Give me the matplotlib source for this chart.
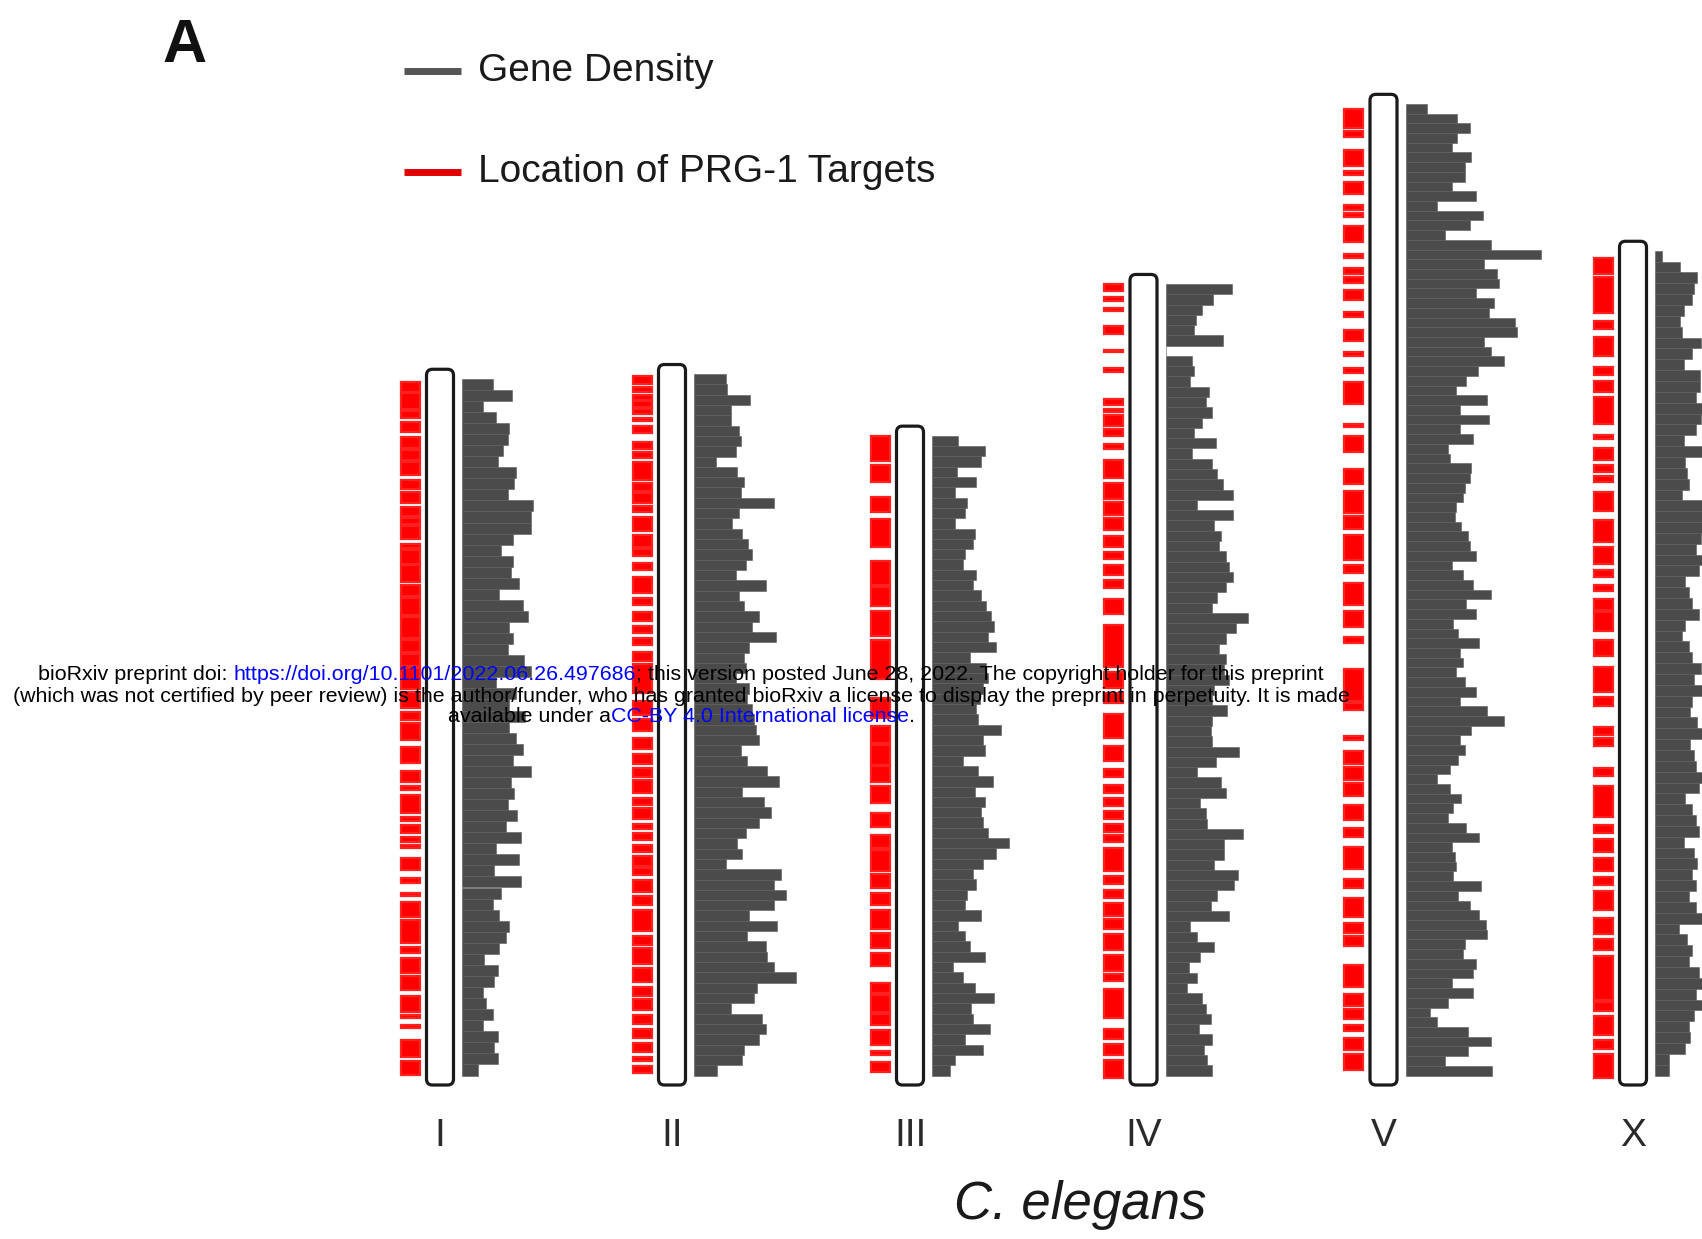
import matplotlib.pyplot as plt
from matplotlib.patches import FancyBboxPatch
from matplotlib.lines import Line2D

plt.rcParams['font.family'] = ['Liberation Sans', 'DejaVu Sans']

# chromosome names and lengths (Mb) as drawn
chromosomes = ['I', 'II', 'III', 'IV', 'V', 'X']
chrom_length_mb = [15.1, 15.2, 13.9, 17.1, 20.9, 17.8]

# gene density per bin, read top -> bottom (arbitrary units)
density_I = [31, 50, 21, 34, 47, 46, 41, 36, 54, 52, 46, 71, 69, 69, 51, 39, 51, 49, 57, 37,
             61, 66, 47, 51, 46, 62, 69, 34, 54, 47, 63, 47, 54, 61, 51, 69, 49, 52, 46, 55,
             44, 59, 34, 57, 32, 59, 39, 31, 37, 47, 44, 37, 22, 36, 32, 21, 24, 31, 21, 36,
             32, 36, 16]
density_II = [32, 33, 56, 37, 37, 45, 47, 42, 22, 43, 50, 47, 80, 45, 38, 48, 54, 58, 52, 42,
              72, 45, 50, 65, 58, 82, 55, 50, 52, 42, 55, 53, 58, 60, 62, 65, 47, 53, 73, 85,
              48, 70, 77, 65, 52, 43, 48, 32, 87, 80, 92, 80, 55, 83, 53, 72, 73, 80, 102, 63,
              60, 37, 68, 72, 65, 50, 48, 23]
density_III = [26, 53, 49, 25, 44, 23, 35, 33, 23, 43, 41, 33, 31, 44, 41, 49, 54, 59, 62, 56,
               64, 38, 54, 56, 51, 48, 44, 46, 69, 51, 53, 31, 46, 61, 43, 53, 49, 51, 56, 77,
               64, 51, 41, 44, 35, 33, 49, 26, 33, 38, 53, 21, 31, 43, 62, 39, 41, 58, 33, 51,
               23, 18]
density_IV = [66, 47, 36, 30, 28, 57, 0, 26, 28, 24, 43, 40, 46, 36, 28, 50, 26, 46, 51, 57,
              67, 31, 67, 48, 55, 53, 60, 63, 67, 60, 51, 46, 82, 70, 60, 53, 60, 58, 63, 48,
              46, 61, 46, 45, 46, 73, 50, 31, 55, 60, 34, 40, 41, 77, 58, 58, 48, 72, 68, 51,
              45, 63, 24, 31, 48, 34, 23, 31, 21, 36, 40, 45, 33, 46, 38, 41, 46]
density_V = [21, 51, 64, 51, 46, 65, 59, 59, 46, 70, 31, 77, 64, 39, 85, 135, 78, 91, 93, 70,
             88, 83, 109, 111, 78, 85, 98, 72, 60, 50, 81, 54, 83, 54, 67, 42, 44, 65, 64, 59,
             57, 50, 49, 55, 62, 64, 70, 46, 57, 67, 85, 60, 70, 47, 52, 73, 54, 57, 50, 59,
             70, 54, 81, 98, 65, 54, 59, 52, 44, 31, 44, 55, 47, 42, 60, 73, 46, 49, 50, 47,
             75, 52, 64, 73, 80, 81, 59, 57, 70, 67, 46, 67, 42, 24, 31, 62, 85, 62, 39, 86]
density_X = [7, 25, 42, 39, 37, 29, 25, 27, 46, 37, 29, 45, 45, 41, 60, 46, 41, 29, 55, 30,
             32, 34, 27, 58, 62, 55, 46, 41, 52, 44, 30, 34, 37, 44, 30, 27, 34, 37, 46, 39,
             55, 37, 35, 42, 50, 35, 39, 41, 55, 44, 30, 37, 41, 44, 29, 39, 42, 37, 41, 34,
             41, 50, 24, 32, 37, 34, 44, 55, 41, 55, 39, 34, 35, 30, 14, 14]

# PRG-1 target clusters along each chromosome, (start, end) in Mb from the top
targets_I = [(0.27, 0.48), (0.50, 0.84), (0.89, 1.03), (1.11, 1.33), (1.42, 1.66), (1.70, 1.92),
             (1.95, 2.23), (2.33, 2.52), (2.58, 2.82), (2.90, 3.09), (3.13, 3.26), (3.31, 3.58),
             (3.68, 3.78), (3.82, 4.10), (4.14, 4.49), (4.55, 4.78), (4.83, 5.18), (5.22, 5.67),
             (5.72, 5.96), (6.01, 6.26), (6.31, 6.75), (6.80, 7.14), (7.24, 7.40), (7.47, 7.82),
             (7.96, 8.31), (8.48, 8.70), (8.80, 8.87), (8.98, 9.37), (9.44, 9.54), (9.61, 9.79),
             (9.86, 9.97), (10.04, 10.11), (10.32, 10.56), (10.74, 10.84), (11.05, 11.12),
             (11.23, 11.55), (11.62, 12.11), (12.18, 12.32), (12.43, 12.74), (12.81, 13.10),
             (13.23, 13.55), (13.62, 13.69), (13.84, 13.90), (14.16, 14.50), (14.60, 14.89)]
targets_II = [(0.25, 0.41), (0.48, 0.58), (0.64, 0.74), (0.78, 0.90), (0.93, 1.05), (1.13, 1.20),
              (1.30, 1.44), (1.64, 1.79), (1.84, 1.98), (2.05, 2.43), (2.50, 2.67), (2.72, 2.92),
              (2.99, 3.11), (3.21, 3.51), (3.59, 3.85), (3.90, 4.05), (4.19, 4.34), (4.49, 4.83),
              (4.93, 5.08), (5.22, 5.42), (5.52, 5.67), (5.76, 5.91), (6.06, 6.26), (6.31, 6.94),
              (7.09, 7.39), (7.48, 7.73), (7.88, 8.12), (8.22, 8.42), (8.51, 8.71), (8.76, 9.05),
              (9.15, 9.30), (9.35, 9.59), (9.69, 9.79), (9.89, 10.04), (10.14, 10.28),
              (10.36, 10.58), (10.63, 10.77), (10.87, 11.12), (11.22, 11.41), (11.51, 11.95),
              (12.05, 12.25), (12.30, 12.64), (12.74, 13.03), (13.13, 13.33), (13.38, 13.62),
              (13.72, 13.92), (14.01, 14.21), (14.31, 14.50), (14.60, 14.70), (14.80, 14.95)]
targets_III = [(0.21, 0.73), (0.82, 1.18), (1.50, 1.82), (1.95, 2.54), (2.85, 3.35), (3.39, 3.80),
               (3.89, 4.43), (4.52, 5.33), (5.74, 6.15), (6.33, 6.69), (6.73, 7.14), (7.18, 7.50),
               (7.59, 7.95), (8.17, 8.45), (8.63, 8.90), (8.94, 9.39), (9.44, 9.75), (9.84, 10.11),
               (10.20, 10.61), (10.70, 11.02), (11.11, 11.38), (11.74, 11.96), (12.01, 12.37),
               (12.41, 12.64), (12.73, 13.05), (13.18, 13.27), (13.41, 13.63)]
targets_IV = [(0.20, 0.34), (0.48, 0.56), (0.70, 0.78), (1.09, 1.26), (1.59, 1.64), (1.97, 2.06),
              (2.62, 2.75), (2.84, 2.91), (2.97, 3.19), (3.25, 3.41), (3.58, 3.69), (3.91, 4.30),
              (4.41, 4.74), (4.79, 5.07), (5.13, 5.40), (5.51, 5.74), (5.85, 6.01), (6.12, 6.34),
              (6.45, 6.62), (6.84, 7.17), (7.39, 8.28), (8.39, 8.72), (8.83, 9.05), (9.27, 9.77),
              (9.94, 10.27), (10.44, 10.60), (10.77, 10.93), (11.04, 11.21), (11.32, 11.49),
              (11.60, 11.76), (11.82, 11.98), (12.09, 12.59), (12.70, 12.87), (12.98, 13.15),
              (13.26, 13.53), (13.59, 13.81), (13.92, 14.25), (14.36, 14.69), (14.75, 14.91),
              (15.08, 15.69), (15.91, 16.13), (16.24, 16.46), (16.57, 16.96)]
targets_V = [(0.30, 0.70), (0.77, 0.90), (1.17, 1.51), (1.61, 1.71), (1.84, 2.11), (2.34, 2.45),
             (2.51, 2.58), (2.78, 3.12), (3.36, 3.45), (3.66, 3.79), (3.86, 3.99), (4.13, 4.33),
             (4.60, 4.70), (4.97, 5.20), (5.43, 5.51), (5.78, 5.87), (6.07, 6.54), (6.95, 7.01),
             (7.21, 7.55), (7.91, 8.22), (8.36, 8.83), (8.89, 9.16), (9.30, 9.83), (9.94, 10.10),
             (10.30, 10.77), (10.91, 11.24), (11.44, 11.58), (12.12, 12.79), (12.85, 12.99),
             (13.53, 13.62), (13.86, 14.13), (14.20, 14.47), (14.53, 14.80), (15.00, 15.31),
             (15.47, 15.67), (15.88, 16.35), (16.55, 16.75), (16.95, 17.35), (17.49, 17.69),
             (17.76, 17.96), (18.36, 18.83), (18.97, 19.23), (19.30, 19.50), (19.64, 19.77),
             (19.91, 20.17), (20.24, 20.58)]
targets_X = [(0.36, 0.70), (0.76, 1.51), (1.68, 1.85), (2.02, 2.42), (2.66, 2.83), (2.94, 3.17),
             (3.29, 3.86), (4.09, 4.17), (4.36, 4.61), (4.72, 4.86), (4.96, 5.07), (5.30, 5.70),
             (5.88, 6.34), (6.45, 6.80), (6.93, 7.08), (7.26, 7.37), (7.54, 7.77), (7.83, 8.23),
             (8.41, 8.75), (8.98, 9.50), (9.61, 9.81), (10.25, 10.42), (10.48, 10.65),
             (11.11, 11.28), (11.49, 12.14), (12.32, 12.49), (12.60, 12.89), (13.01, 13.29),
             (13.41, 13.58), (13.70, 14.10), (14.27, 14.62), (14.73, 14.96), (15.08, 16.00),
             (16.05, 16.23), (16.34, 16.74), (16.86, 17.03), (17.15, 17.66)]

densities = [density_I, density_II, density_III, density_IV, density_V, density_X]
targets = [targets_I, targets_II, targets_III, targets_IV, targets_V, targets_X]

# layout (pixels in x, Mb in y)
W, H = 1702, 1239
px_per_mb = 47.4
base_px = 1085
centers = [440, 672, 910, 1143.5, 1383.5, 1633]
gray = '#4b4b4b'
red = '#ff0000'

fig = plt.figure(figsize=(W / 100, H / 100), dpi=100)
ax = fig.add_axes([0, 0, 1, 1])
ax.set_xlim(0, W)
ax.set_ylim(-(H - base_px) / px_per_mb, base_px / px_per_mb)
ax.axis('off')

for name, L, c, dens, tg in zip(chromosomes, chrom_length_mb, centers, densities, targets):
    # gene density bars
    inset = 0.2
    step = (L - 2 * inset) / len(dens)
    ys = [L - inset - (k + 0.5) * step for k in range(len(dens))]
    ax.barh(ys, dens, height=step, left=c + 22, color=gray,
            edgecolor='#5c5c5c', linewidth=0.4)
    # PRG-1 target locations
    ax.barh([L - (s + e) / 2 for s, e in tg], 19, height=[e - s for s, e in tg],
            left=c - 39.5, color=red, edgecolor='#ff2020', linewidth=1.6)
    # chromosome outline
    box = FancyBboxPatch((c - 13.5, 0), 27, L,
                         boxstyle='round,pad=0,rounding_size=6',
                         mutation_aspect=1 / px_per_mb,
                         facecolor='white', edgecolor='#1a1a1a', linewidth=2.3, zorder=3)
    ax.add_patch(box)
    ax.text(c, -(1136 - base_px) / px_per_mb, name, ha='center', va='center',
            fontsize=28, color='#2a2a2a')

# legend
for i, (lab, col, ypx) in enumerate([('Gene Density', '#555555', 71),
                                     ('Location of PRG-1 Targets', '#e00000', 172)]):
    yy = 1 - ypx / H
    fig.add_artist(Line2D([404 / W, 461 / W], [yy, yy], color=col, lw=5,
                          solid_capstyle='butt'))
    fig.text(478 / W, yy, lab, fontsize=28, va='center', ha='left', color='#1a1a1a')

fig.text(185 / W, 1 - 46 / H, 'A', fontsize=44, fontweight='bold', ha='center',
         va='center', color='#111111')
fig.text(1080 / W, 1 - 1205 / H, 'C. elegans', fontsize=38, style='italic',
         ha='center', va='center', color='#1a1a1a')

# bioRxiv stamp
stamp = [
    [('bioRxiv preprint doi: ', 'black'),
     ('https://doi.org/10.1101/2022.06.26.497686', 'blue'),
     ('; this version posted June 28, 2022. The copyright holder for this preprint', 'black')],
    [('(which was not certified by peer review) is the author/funder, who has granted '
      'bioRxiv a license to display the preprint in perpetuity. It is made', 'black')],
    [('available under a', 'black'), ('CC-BY 4.0 International license', 'blue'),
     ('.', 'black')],
]
stamp_y = [675, 696, 716]
stamp_cx = 681
fs = 15.4
renderer = fig.canvas.get_renderer()


def text_width(s):
    t = fig.text(0, 0, s + '|', fontsize=fs)
    t2 = fig.text(0, 0, '|', fontsize=fs)
    w = t.get_window_extent(renderer).width - t2.get_window_extent(renderer).width
    t.remove()
    t2.remove()
    return w


for line, ypx in zip(stamp, stamp_y):
    full = ''.join(s for s, _ in line)
    x0 = stamp_cx - text_width(full) / 2
    prefix = ''
    for s, col in line:
        fig.text((x0 + text_width(prefix)) / W, 1 - ypx / H, s, fontsize=fs,
                 color=col, va='center', ha='left', zorder=10)
        prefix += s

fig.savefig('out.png', dpi=100)
